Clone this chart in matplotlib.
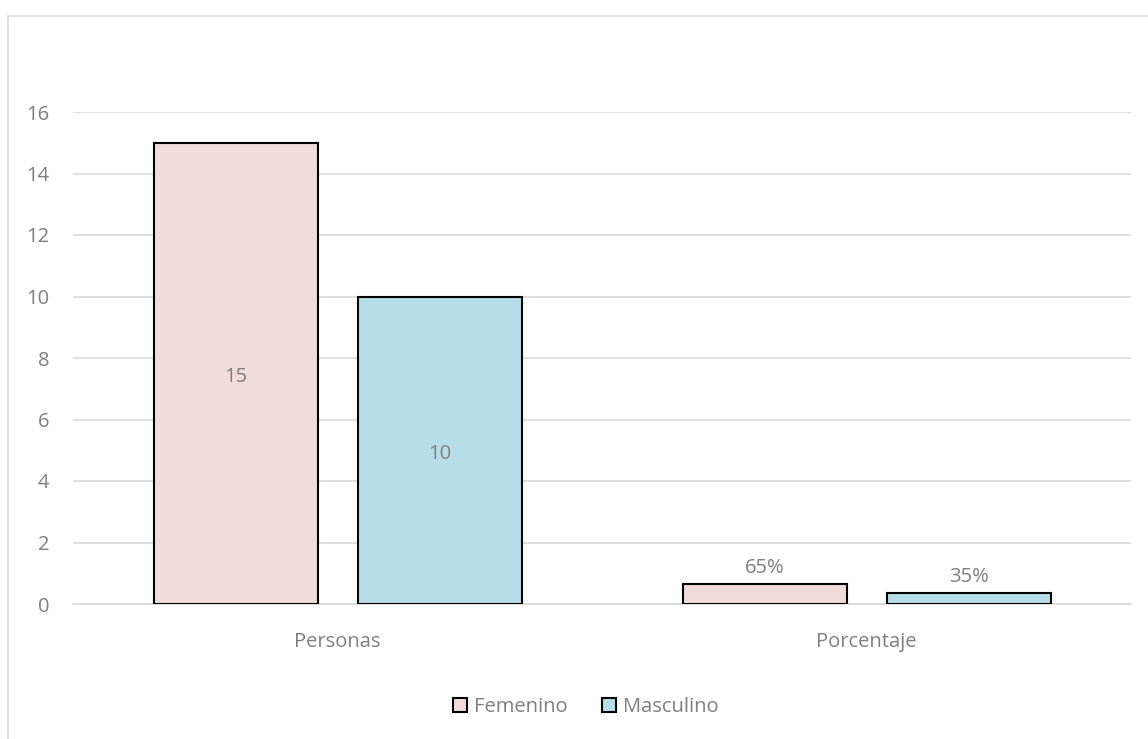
import matplotlib.pyplot as plt
import numpy as np
from matplotlib.patches import Rectangle

categories = ['Personas', 'Porcentaje']
series_names = ['Femenino', 'Masculino']
femenino = [15, 0.65]
masculino = [10, 0.35]
label_texts = [['15', '65%'], ['10', '35%']]
y_ticks = [0, 2, 4, 6, 8, 10, 12, 14, 16]

colors = ['#F2DCDB', '#B7DEE8']
text_color = '#7f7f7f'
grid_color = '#d9d9d9'
fs = 14.5

plt.rcParams['font.family'] = ['Open Sans', 'DejaVu Sans']

W, H = 1148, 739
fig = plt.figure(figsize=(W / 100, H / 100), dpi=100)

# outer chart border (cut off at right and bottom like the reference)
fig.patches.append(Rectangle((8 / W, -1), 2, 2 - 16 / H, transform=fig.transFigure,
                             fill=False, edgecolor=grid_color, linewidth=1.2))

ax = fig.add_axes([73 / W, (H - 604) / H, (1131 - 73) / W, (604 - 112) / H])

x = np.arange(len(categories))
width = 0.31
offsets = [-0.192, 0.193]

for i, (name, vals) in enumerate(zip(series_names, [femenino, masculino])):
    bars = ax.bar(x + offsets[i], vals, width=width, color=colors[i], edgecolor='black',
                  linewidth=1.5, label=name, zorder=3)
    for j, b in enumerate(bars):
        h = b.get_height()
        if h > 2:
            ax.text(b.get_x() + b.get_width() / 2, h / 2 - 0.12, label_texts[i][j], ha='center',
                    va='center', color=text_color, fontsize=fs, zorder=4)
        else:
            ax.text(b.get_x() + b.get_width() / 2, h + 0.2, label_texts[i][j], ha='center',
                    va='bottom', color=text_color, fontsize=fs, zorder=4)

ax.set_xlim(-0.5, 1.5)
ax.set_ylim(0, 16)
ax.set_yticks(y_ticks)
ax.set_xticks(x)
ax.set_xticklabels(categories)
ax.yaxis.grid(True, color=grid_color, linewidth=1.2)
ax.set_axisbelow(True)
for s in ['top', 'right', 'left']:
    ax.spines[s].set_visible(False)
ax.spines['bottom'].set_color(grid_color)
ax.spines['bottom'].set_linewidth(1.2)
ax.tick_params(axis='both', length=0, colors=text_color, labelsize=fs)
ax.tick_params(axis='x', pad=20)
ax.tick_params(axis='y', pad=17)

ax.legend(loc='center', bbox_to_anchor=(586 / W, (H - 707) / H), bbox_transform=fig.transFigure,
          ncol=2, frameon=False, fontsize=fs, labelcolor=text_color, handlelength=0.7,
          handleheight=0.7, handletextpad=0.35, columnspacing=1.7)

fig.savefig('out.png', dpi=100, facecolor='white')
